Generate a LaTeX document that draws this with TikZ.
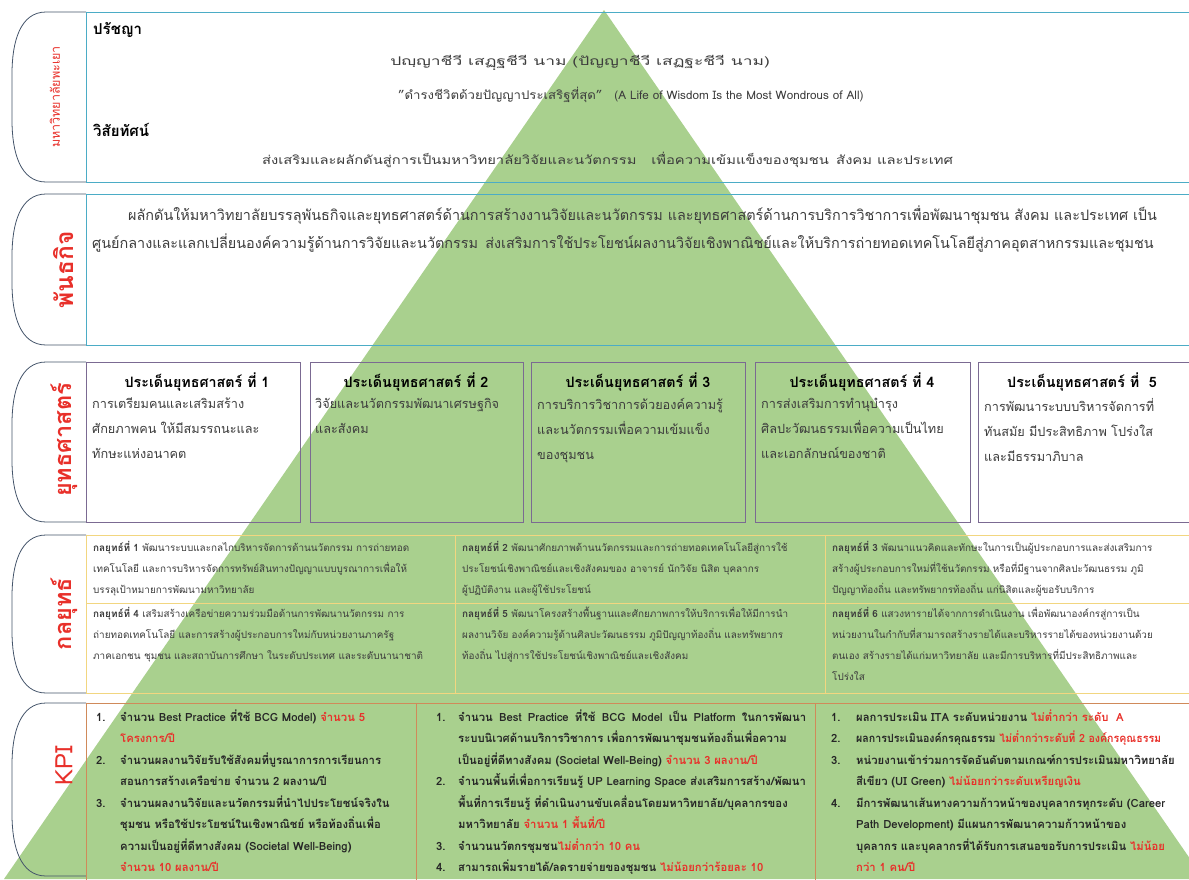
\documentclass[tikz,border=0pt]{standalone}
\usepackage{fontspec}
\setmainfont{Loma}[Script=Thai]
\definecolor{tri}{HTML}{A9D08E}
\definecolor{tealc}{HTML}{4BACC6}
\definecolor{labc}{HTML}{44546A}
\definecolor{purp}{HTML}{7B6A92}
\definecolor{goldc}{HTML}{F2D680}
\definecolor{brn}{HTML}{D08A5A}
\definecolor{kred}{HTML}{E8302A}
\definecolor{txt}{HTML}{3C3C3C}
\newcommand\lblshape[2]{\draw[labline] (86,#1) -- (46,#1) .. controls (20,#1) and (12,#1+30) .. (12,#1+62) -- (12,#2-62) .. controls (12,#2-30) and (20,#2) .. (46,#2) -- (86,#2);}
\tikzset{
  labline/.style={draw=labc, line width=0.8pt},
  boxbase/.style={anchor=north west, inner sep=0pt, outer sep=0pt, fill=none},
  tealbox/.style={boxbase, draw=tealc, line width=1pt},
  purpbox/.style={boxbase, draw=purp, line width=0.9pt},
  goldbox/.style={boxbase, draw=goldc, line width=1pt},
  brnbox/.style={boxbase, draw=brn, line width=1pt},
  labtxt/.style={rotate=90, text=kred, inner sep=0pt},
  head/.style={font=\fontsize{15}{18}\selectfont\bfseries, text=black, inner sep=0pt, anchor=west},
  r1txt/.style={font=\fontsize{12}{14}\selectfont, text=txt, inner sep=0pt},
  r2txt/.style={font=\fontsize{14.4}{17}\selectfont, text=txt, inner sep=0pt, anchor=west},
  sttl/.style={font=\fontsize{14.3}{16}\selectfont\bfseries, text=black, inner sep=0pt},
  sbody/.style={font=\fontsize{12.7}{25}\selectfont, text=txt, inner sep=0pt, anchor=north west, align=left},
  gtxt/.style={font=\fontsize{9.9}{21}\selectfont, text=txt, inner sep=0pt, anchor=north west, align=left},
  ktxt/.style={font=\fontsize{11.3}{21.5}\selectfont\bfseries, text=black!85, inner sep=0pt, anchor=north west, align=left},
}
\newcommand\kr[1]{\textcolor{kred}{#1}}
\begin{document}
\begin{tikzpicture}[x=1pt,y=-1pt]
\useasboundingbox (0,0) rectangle (1189,879);
% background pyramid
\fill[tri] (604,10) -- (4,879) -- (1204,879) -- cycle;

% ---------- row 1: university ----------
\lblshape{12}{182}
\node[tealbox, minimum width=1120pt, minimum height=170pt] (r1box) at (86,12) {};
\node[labtxt, font=\fontsize{12.5}{14}\selectfont] (r1lab) at (55,97) {มหาวิทยาลัยพะเยา};
\node[head] (phil) at (93,30) {ปรัชญา};
\node[r1txt] (pali) at (580,63) {\scalebox{1.45}[1]{ปญฺญาชีวี เสฏฺฐชีวี นาม (ปัญญาชีวี เสฏฐะชีวี นาม)}};
\node[r1txt, anchor=west] (motto) at (398,95) {\scalebox{1.1}[1]{"ดำรงชีวิตด้วยปัญญาประเสริฐที่สุด"}\quad {\fontsize{11.7}{14}\selectfont(A Life of Wisdom Is the Most Wondrous of All)}};
\node[head] (vis) at (93,130) {วิสัยทัศน์};
\node[r1txt, anchor=west] (vision) at (262,160) {\scalebox{1.23}[1]{ส่งเสริมและผลักดันสู่การเป็นมหาวิทยาลัยวิจัยและนวัตกรรม\quad เพื่อความเข้มแข็งของชุมชน\enspace สังคม และประเทศ}};

% ---------- row 2: mission ----------
\lblshape{194}{345}
\node[tealbox, minimum width=1120pt, minimum height=151pt] (r2box) at (86,194) {};
\node[labtxt, font=\fontsize{24.5}{28}\selectfont\bfseries] (r2lab) at (64,270) {พันธกิจ};
\node[r2txt] (mis1) at (128,215) {ผลักดันให้มหาวิทยาลัยบรรลุพันธกิจและยุทธศาสตร์ด้านการสร้างงานวิจัยและนวัตกรรม และยุทธศาสตร์ด้านการบริการวิชาการเพื่อพัฒนาชุมชน สังคม และประเทศ เป็น};
\node[r2txt] (mis2) at (92,243) {ศูนย์กลางและแลกเปลี่ยนองค์ความรู้ด้านการวิจัยและนวัตกรรม\enspace ส่งเสริมการใช้ประโยชน์ผลงานวิจัยเชิงพาณิชย์และให้บริการถ่ายทอดเทคโนโลยีสู่ภาคอุตสาหกรรมและชุมชน};

% ---------- row 3: strategies ----------
\lblshape{362}{522}
\node[labtxt, font=\fontsize{23.5}{27}\selectfont\bfseries] (r3lab) at (64,440) {ยุทธศาสตร์};
\node[purpbox, minimum width=214pt, minimum height=160pt] (s1) at (86,362) {};
\node[purpbox, minimum width=213pt, minimum height=160pt] (s2) at (310,362) {};
\node[purpbox, minimum width=214pt, minimum height=160pt] (s3) at (531,362) {};
\node[purpbox, minimum width=215pt, minimum height=160pt] (s4) at (755,362) {};
\node[purpbox, minimum width=230pt, minimum height=160pt] (s5) at (978,362) {};
\node[sttl] (s1t) at (197,382) {ประเด็นยุทธศาสตร์\ ที่ 1};
\node[sttl] (s2t) at (416,382) {ประเด็นยุทธศาสตร์\ ที่ 2};
\node[sttl] (s3t) at (638,382) {ประเด็นยุทธศาสตร์\ ที่ 3};
\node[sttl] (s4t) at (862,382) {ประเด็นยุทธศาสตร์\ ที่ 4};
\node[sttl] (s5t) at (1082,382) {ประเด็นยุทธศาสตร์\ ที่\ \ 5};
\node[sbody] (s1b) at (92,398) {การเตรียมคนและเสริมสร้าง\\ศักยภาพคน ให้มีสมรรถนะและ\\ทักษะแห่งอนาคต};
\node[sbody] (s2b) at (315,398) {วิจัยและนวัตกรรมพัฒนาเศรษฐกิจ\\และสังคม};
\node[sbody] (s3b) at (537,398) {การบริการวิชาการด้วยองค์ความรู้\\และนวัตกรรมเพื่อความเข้มแข็ง\\ของชุมชน};
\node[sbody] (s4b) at (761,398) {การส่งเสริมการทำนุบำรุง\\ศิลปะวัฒนธรรมเพื่อความเป็นไทย\\และเอกลักษณ์ของชาติ};
\node[sbody] (s5b) at (984,398) {การพัฒนาระบบบริหารจัดการที่\\ทันสมัย มีประสิทธิภาพ โปร่งใส\\และมีธรรมาภิบาล};

% ---------- row 4: tactics ----------
\lblshape{535}{693}
\node[labtxt, font=\fontsize{23.5}{27}\selectfont\bfseries] (r4lab) at (64,614) {กลยุทธ์};
\node[goldbox, minimum width=369pt, minimum height=68pt] (g1) at (86,535) {};
\node[goldbox, minimum width=370pt, minimum height=68pt] (g2) at (455,535) {};
\node[goldbox, minimum width=380pt, minimum height=68pt] (g3) at (825,535) {};
\node[goldbox, minimum width=369pt, minimum height=90pt] (g4) at (86,603) {};
\node[goldbox, minimum width=370pt, minimum height=90pt] (g5) at (455,603) {};
\node[goldbox, minimum width=380pt, minimum height=90pt] (g6) at (825,603) {};
\node[gtxt] (g1t) at (93,541) {\textbf{กลยุทธ์ที่ 1} พัฒนาระบบและกลไกบริหารจัดการด้านนวัตกรรม การถ่ายทอด\\เทคโนโลยี และการบริหารจัดการทรัพย์สินทางปัญญาแบบบูรณาการเพื่อให้\\บรรลุเป้าหมายการพัฒนามหาวิทยาลัย};
\node[gtxt] (g2t) at (462,541) {\textbf{กลยุทธ์ที่ 2} พัฒนาศักยภาพด้านนวัตกรรมและการถ่ายทอดเทคโนโลยีสู่การใช้\\ประโยชน์เชิงพาณิชย์และเชิงสังคมของ อาจารย์ นักวิจัย นิสิต บุคลากร\\ผู้ปฏิบัติงาน และผู้ใช้ประโยชน์};
\node[gtxt] (g3t) at (832,541) {\textbf{กลยุทธ์ที่ 3} พัฒนาแนวคิดและทักษะในการเป็นผู้ประกอบการและส่งเสริมการ\\สร้างผู้ประกอบการใหม่ที่ใช้นวัตกรรม หรือที่มีฐานจากศิลปะวัฒนธรรม ภูมิ\\ปัญญาท้องถิ่น และทรัพยากรท้องถิ่น แก่นิสิตและผู้ขอรับบริการ};
\node[gtxt] (g4t) at (93,607) {\textbf{กลยุทธ์ที่ 4} เสริมสร้างเครือข่ายความร่วมมือด้านการพัฒนานวัตกรรม การ\\ถ่ายทอดเทคโนโลยี และการสร้างผู้ประกอบการใหม่กับหน่วยงานภาครัฐ\\ภาคเอกชน ชุมชน และสถาบันการศึกษา ในระดับประเทศ และระดับนานาชาติ};
\node[gtxt] (g5t) at (462,607) {\textbf{กลยุทธ์ที่ 5} พัฒนาโครงสร้างพื้นฐานและศักยภาพการให้บริการเพื่อให้มีการนำ\\ผลงานวิจัย องค์ความรู้ด้านศิลปะวัฒนธรรม ภูมิปัญญาท้องถิ่น และทรัพยากร\\ท้องถิ่น ไปสู่การใช้ประโยชน์เชิงพาณิชย์และเชิงสังคม};
\node[gtxt] (g6t) at (832,607) {\textbf{กลยุทธ์ที่ 6} แสวงหารายได้จากการดำเนินงาน เพื่อพัฒนาองค์กรสู่การเป็น\\หน่วยงานในกำกับที่สามารถสร้างรายได้และบริหารรายได้ของหน่วยงานด้วย\\ตนเอง สร้างรายได้แก่มหาวิทยาลัย และมีการบริหารที่มีประสิทธิภาพและ\\โปร่งใส};

% ---------- row 5: KPI ----------
\lblshape{703}{876}
\node[labtxt, font=\fontsize{24}{27}\selectfont] (r5lab) at (64,766) {KPI};
\node[brnbox, minimum width=330pt, minimum height=200pt] (k1) at (86,703) {};
\node[brnbox, minimum width=399pt, minimum height=200pt] (k2) at (416,703) {};
\node[brnbox, minimum width=390pt, minimum height=200pt] (k3) at (815,703) {};
\node[ktxt] (k1t) at (96,706) {\begin{tabular}{@{}p{24pt}@{}l@{}}
1. & จำนวน Best Practice ที่ใช้ BCG Model) \kr{จำนวน 5}\\
 & \kr{โครงการ/ปี}\\
2. & จำนวนผลงานวิจัยรับใช้สังคมที่บูรณาการการเรียนการ\\
 & สอนการสร้างเครือข่าย จำนวน 2 ผลงาน/ปี\\
3. & จำนวนผลงานวิจัยและนวัตกรรมที่นำไปประโยชน์จริงใน\\
 & ชุมชน หรือใช้ประโยชน์ในเชิงพาณิชย์ หรือท้องถิ่นเพื่อ\\
 & ความเป็นอยู่ที่ดีทางสังคม (Societal Well-Being)\\
 & \kr{จำนวน 10 ผลงาน/ปี}
\end{tabular}};
\node[ktxt] (k2t) at (436,706) {\begin{tabular}{@{}p{22pt}@{}l@{}}
1. & \makebox[348pt][s]{จำนวน Best Practice ที่ใช้ BCG Model เป็น Platform ในการพัฒนา}\\
 & ระบบนิเวศด้านบริการวิชาการ เพื่อการพัฒนาชุมชนท้องถิ่นเพื่อความ\\
 & เป็นอยู่ที่ดีทางสังคม (Societal Well-Being) \kr{จำนวน 3 ผลงาน/ปี}\\
2. & จำนวนพื้นที่เพื่อการเรียนรู้ UP Learning Space ส่งเสริมการสร้าง/พัฒนา\\
 & พื้นที่การเรียนรู้ ที่ดำเนินงานขับเคลื่อนโดยมหาวิทยาลัย/บุคลากรของ\\
 & มหาวิทยาลัย \kr{จำนวน 1 พื้นที่/ปี}\\
3. & จำนวนนวัตกรชุมชน\kr{ไม่ต่ำกว่า 10 คน}\\
4. & สามารถเพิ่มรายได้/ลดรายจ่ายของชุมชน \kr{ไม่น้อยกว่าร้อยละ 10}
\end{tabular}};
\node[ktxt] (k3t) at (831,706) {\begin{tabular}{@{}p{25pt}@{}l@{}}
1. & ผลการประเมิน ITA ระดับหน่วยงาน \kr{ไม่ต่ำกว่า ระดับ\ \ A}\\
2. & \scalebox{0.94}[1]{ผลการประเมินองค์กรคุณธรรม \kr{ไม่ต่ำกว่าระดับที่ 2 องค์กรคุณธรรม}}\\
3. & หน่วยงานเข้าร่วมการจัดอันดับตามเกณฑ์การประเมินมหาวิทยาลัย\\
 & สีเขียว (UI Green) \kr{ไม่น้อยกว่าระดับเหรียญเงิน}\\
4. & มีการพัฒนาเส้นทางความก้าวหน้าของบุคลากรทุกระดับ (Career\\
 & Path Development) มีแผนการพัฒนาความก้าวหน้าของ\\
 & บุคลากร และบุคลากรที่ได้รับการเสนอขอรับการประเมิน \kr{ไม่น้อย}\\
 & \kr{กว่า 1 คน/ปี}
\end{tabular}};
\end{tikzpicture}
\end{document}
